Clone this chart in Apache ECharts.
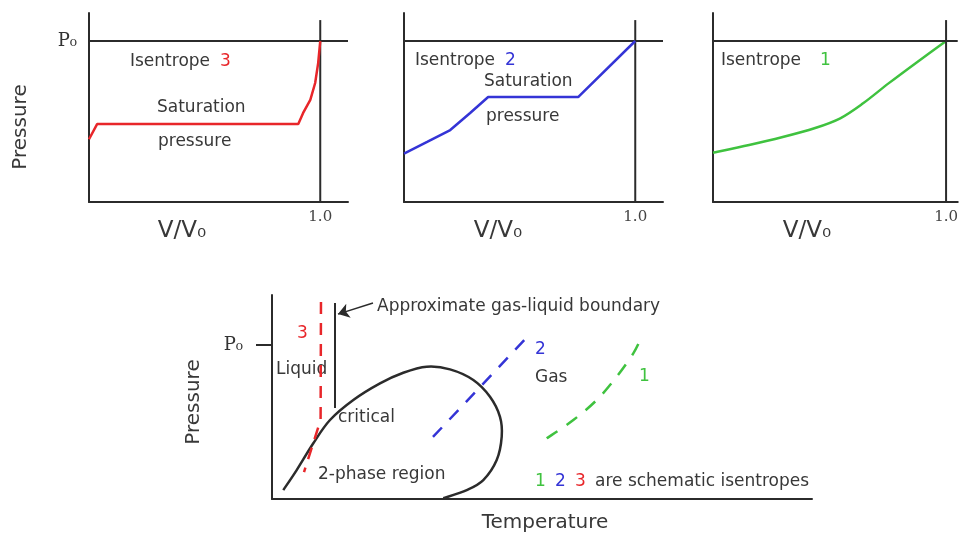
<!DOCTYPE html>
<html><head><meta charset="utf-8">
<script src="https://cdn.jsdelivr.net/npm/echarts@6.0.0/dist/echarts.min.js"></script>
<style>html,body{margin:0;padding:0;background:#fff}#c{width:961px;height:536px}</style>
</head><body><div id="c"></div>
<script>
// ---- data (schematic values) ----
const P0 = 1.0;        // reference pressure P0
const V_REF = 1.0;     // V/V0 = 1.0
const V_LINE_TOP = 1.13;
const X_TICKS = [1.0];
const Y_TICKS = [1.0];

// Isentrope 3 (P vs V/V0)
const iso3V = [0, 0.035, 0.905, 0.926, 0.957, 0.978, 0.991, 1.0];
const iso3P = [0.39, 0.484, 0.484, 0.553, 0.634, 0.739, 0.863, 1.0];
// Isentrope 2
const iso2V = [0, 0.1, 0.2, 0.286, 0.364, 0.753, 1.0];
const iso2P = [0.30, 0.373, 0.447, 0.553, 0.652, 0.652, 1.0];
// Isentrope 1
const iso1V = [0, 0.155, 0.295, 0.435, 0.546, 0.644, 0.756, 0.868, 1.0];
const iso1P = [0.306, 0.354, 0.402, 0.458, 0.520, 0.613, 0.740, 0.861, 1.0];

// Phase diagram (P vs T, arbitrary T units)
const boundaryT = [1.167, 1.167];
const boundaryP = [0.591, 1.273];
const phaseT = [0.209, 0.457, 0.765, 1.074, 1.506, 2.0, 2.431, 2.865, 3.296, 3.728, 4.037, 4.222, 4.254, 4.161, 3.913, 3.606, 3.172];
const phaseP = [0.058, 0.188, 0.362, 0.513, 0.643, 0.751, 0.820, 0.859, 0.842, 0.773, 0.664, 0.534, 0.405, 0.253, 0.123, 0.058, 0.005];
const dash3T = [0.907, 0.90, 0.593];
const dash3P = [1.279, 0.513, 0.175];
const dash2T = [2.981, 4.741];
const dash2P = [0.403, 1.058];
const dash1T = [5.087, 5.580, 6.013, 6.383, 6.691, 6.846];
const dash1P = [0.394, 0.513, 0.643, 0.794, 0.946, 1.054];
const arrowT = [1.87, 1.222];
const arrowP = [1.273, 1.201];

const RED = '#e8262a', BLUE = '#3434d6', GREEN = '#3fc23f', INK = '#2b2b2b', TXT = '#383838';
const zip = (a, b) => a.map((v, i) => [v, b[i]]);

const chart = echarts.init(document.getElementById('c'), null, {renderer: 'canvas'});

function xAxis(idx, max, showLabel) {
  return {
    type: 'value', gridIndex: idx, min: 0, max: max,
    axisLine: {show: true, onZero: false, lineStyle: {color: INK, width: 2}},
    axisTick: {show: false},
    splitLine: {show: false},
    axisLabel: showLabel ? {
      customValues: X_TICKS, formatter: v => v.toFixed(1),
      color: '#444', fontFamily: 'DejaVu Serif', fontSize: 15, margin: 8
    } : {show: false}
  };
}
function yAxis(idx, max, label, tick) {
  return {
    type: 'value', gridIndex: idx, min: 0, max: max,
    axisLine: {show: true, onZero: false, lineStyle: {color: INK, width: 2}},
    axisTick: tick ? {show: true, customValues: Y_TICKS, length: 16, lineStyle: {color: INK, width: 2}} : {show: false},
    splitLine: {show: false},
    axisLabel: label ? {
      customValues: Y_TICKS, formatter: () => 'P\u2080',
      color: '#333', fontFamily: 'DejaVu Serif', fontSize: 18, margin: label
    } : {show: false}
  };
}
function ln(idx, data, color, width, extra) {
  return Object.assign({
    type: 'line', xAxisIndex: idx, yAxisIndex: idx, data: data,
    showSymbol: false, symbol: 'none', silent: true, animation: false,
    lineStyle: {color: color, width: width}
  }, extra || {});
}
// smooth curve through the data points (Catmull-Rom), positioned with the axes' own scales
function curve(idx, xs, ys, color, width, dash) {
  return {
    type: 'custom', xAxisIndex: idx, yAxisIndex: idx, silent: true, animation: false,
    data: [[xs[0], ys[0]]], clip: false,
    renderItem: function (params, api) {
      if (params.dataIndex !== 0) return;
      const p = xs.map((x, i) => api.coord([x, ys[i]]));
      let d = 'M' + p[0][0] + ' ' + p[0][1];
      for (let i = 0; i < p.length - 1; i++) {
        const p0 = p[Math.max(i - 1, 0)], p1 = p[i], p2 = p[i + 1], p3 = p[Math.min(i + 2, p.length - 1)];
        const c1 = [p1[0] + (p2[0] - p0[0]) / 6, p1[1] + (p2[1] - p0[1]) / 6];
        const c2 = [p2[0] - (p3[0] - p1[0]) / 6, p2[1] - (p3[1] - p1[1]) / 6];
        d += ' C' + c1[0] + ' ' + c1[1] + ' ' + c2[0] + ' ' + c2[1] + ' ' + p2[0] + ' ' + p2[1];
      }
      return {
        type: 'path', shape: {pathData: d},
        style: {stroke: color, fill: 'none', lineWidth: width, lineDash: dash || null}
      };
    }
  };
}

function txt(x, y, s, opts) {
  return Object.assign({
    type: 'text', x: x, y: y, silent: true,
    style: Object.assign({text: s, fill: TXT, font: '17px "DejaVu Sans"', textVerticalAlign: 'middle', textAlign: 'left'}, (opts || {}).style || {})
  }, opts && opts.rotation !== undefined ? {rotation: opts.rotation} : {});
}

const XMAX_A = 1.12, XMAX_C = 1.05, YMAX_TOP = 1.174, TMAX = 10, YMAX_B = 1.325;

const option = {
  animation: false,
  backgroundColor: '#fff',
  grid: [
    {left: 89, top: 13, width: 259, height: 189},
    {left: 404, top: 13, width: 259, height: 189},
    {left: 713, top: 13, width: 250, height: 189},
    {left: 272, top: 295, width: 540, height: 204}
  ],
  xAxis: [xAxis(0, XMAX_A, true), xAxis(1, XMAX_A, true), xAxis(2, XMAX_C, true), xAxis(3, TMAX, false)],
  yAxis: [yAxis(0, YMAX_TOP, 12, false), yAxis(1, YMAX_TOP, 0, false), yAxis(2, YMAX_TOP, 0, false), yAxis(3, YMAX_B, 29, true)],
  series: [
    // reference lines
    ln(0, [[0, P0], [XMAX_A, P0]], INK, 2),
    ln(0, [[V_REF, 0], [V_REF, V_LINE_TOP]], INK, 2),
    ln(1, [[0, P0], [XMAX_A, P0]], INK, 2),
    ln(1, [[V_REF, 0], [V_REF, V_LINE_TOP]], INK, 2),
    ln(2, [[0, P0], [XMAX_C, P0]], INK, 2),
    ln(2, [[V_REF, 0], [V_REF, V_LINE_TOP]], INK, 2),
    // isentropes
    ln(0, zip(iso3V, iso3P), RED, 2.5),
    ln(1, zip(iso2V, iso2P), BLUE, 2.5),
    curve(2, iso1V, iso1P, GREEN, 2.5),
    // phase diagram
    ln(3, zip(boundaryT, boundaryP), INK, 2),
    curve(3, phaseT, phaseP, INK, 2.5),
    ln(3, zip(dash3T, dash3P), RED, 2.5, {lineStyle: {color: RED, width: 2.5, type: [12, 9]}}),
    ln(3, zip(dash2T, dash2P), BLUE, 2.5, {lineStyle: {color: BLUE, width: 2.5, type: [13, 11]}}),
    curve(3, dash1T, dash1P, GREEN, 2.5, [13, 11]),
    {
      type: 'lines', coordinateSystem: 'cartesian2d', xAxisIndex: 3, yAxisIndex: 3,
      silent: true, animation: false,
      symbol: ['none', 'arrow'], symbolSize: [0, 11],
      lineStyle: {color: INK, width: 1.5, opacity: 1},
      data: [{coords: zip(arrowT, arrowP)}]
    }
  ],
  graphic: [
    // axis titles
    txt(21, 127, 'Pressure', {rotation: Math.PI / 2, style: {font: '20px "DejaVu Sans"', textAlign: 'center'}}),
    txt(182, 231, 'V/V\u2080', {style: {font: '23px "DejaVu Sans"', textAlign: 'center'}}),
    txt(498, 231, 'V/V\u2080', {style: {font: '23px "DejaVu Sans"', textAlign: 'center'}}),
    txt(807, 231, 'V/V\u2080', {style: {font: '23px "DejaVu Sans"', textAlign: 'center'}}),
    txt(194, 402, 'Pressure', {rotation: Math.PI / 2, style: {font: '20px "DejaVu Sans"', textAlign: 'center'}}),
    txt(545, 523, 'Temperature', {style: {font: '20px "DejaVu Sans"', textAlign: 'center'}}),
    // panel 1
    txt(130, 62, 'Isentrope'), txt(220, 62, '3', {style: {fill: RED}}),
    txt(157, 108, 'Saturation'), txt(158, 142, 'pressure'),
    // panel 2
    txt(415, 61, 'Isentrope'), txt(505, 61, '2', {style: {fill: BLUE}}),
    txt(484, 82, 'Saturation'), txt(486, 117, 'pressure'),
    // panel 3
    txt(721, 61, 'Isentrope'), txt(820, 61, '1', {style: {fill: GREEN}}),
    // phase diagram annotations
    txt(377, 307, 'Approximate gas-liquid boundary'),
    txt(297, 334, '3', {style: {fill: RED}}),
    txt(276, 370, 'Liquid'),
    txt(338, 418, 'critical'),
    txt(318, 475, '2-phase region'),
    txt(535, 350, '2', {style: {fill: BLUE}}),
    txt(535, 378, 'Gas'),
    txt(639, 377, '1', {style: {fill: GREEN}}),
    txt(535, 482, '1', {style: {fill: GREEN}}),
    txt(555, 482, '2', {style: {fill: BLUE}}),
    txt(575, 482, '3', {style: {fill: RED}}),
    txt(595, 482, 'are schematic isentropes')
  ]
};
chart.setOption(option);
</script>
</body></html>
